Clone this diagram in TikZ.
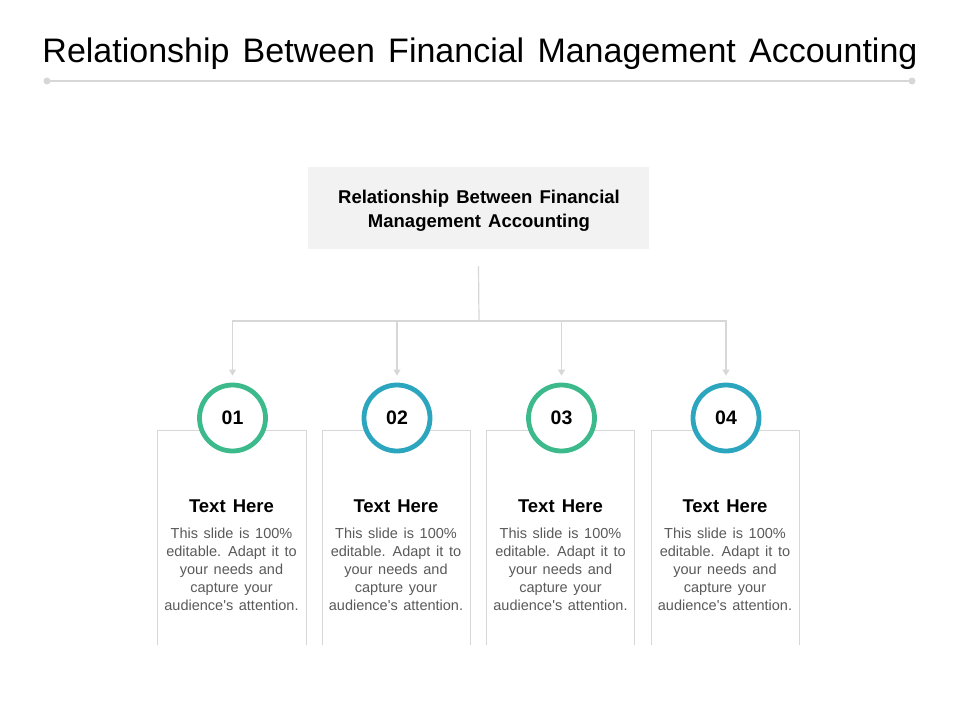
\documentclass[tikz,border=0pt]{standalone}
\usepackage{fontspec}
\setmainfont{Liberation Sans}[Ligatures=TeXOff]
\newfontfamily\tightsans{Liberation Sans}[Ligatures=TeXOff, WordSpace=0.4]
\newfontfamily\widesans{Liberation Sans}[Ligatures=TeXOff, WordSpace=1.4]
\usetikzlibrary{arrows.meta}
\usetikzlibrary{shadows}
\definecolor{leafgreen}{RGB}{60,186,140}
\definecolor{seateal}{RGB}{44,166,190}
\definecolor{paleline}{RGB}{215,215,215}
\definecolor{headfill}{RGB}{242,242,242}
\definecolor{bodygray}{RGB}{89,89,89}
\newcommand{\bodytext}{This slide is 100\%\\editable. Adapt it to\\your needs and\\capture your\\audience's attention.}

\begin{document}
\begin{tikzpicture}[x=1pt, y=-1pt,
		link/.style={draw=paleline, line width=1.2pt},
		drop/.style={link, -{Triangle[width=7pt,length=6pt]}, shorten >=7pt},
		frame/.style={draw=paleline, line width=1pt},
		badge/.style={circle, fill=white, line width=4.8pt, minimum size=66pt, inner sep=0pt,
			font=\bfseries\fontsize{19.5}{22}\selectfont,
			drop shadow={opacity=0.18, shadow xshift=1.5pt, shadow yshift=-1.5pt}},
		heading/.style={anchor=base, font=\tightsans\bfseries\fontsize{18.5}{22}\selectfont},
		body/.style={align=center, text=bodygray, inner sep=0pt, font=\fontsize{14.5}{18}\selectfont}]
		\useasboundingbox (0,0) rectangle (960,720);

		% title and rule
		\node[anchor=base, inner sep=0pt] (title) at (480,62) {\widesans\fontsize{34}{40}\selectfont Relationship Between Financial Management Accounting};
		\coordinate (ruleL) at (47,81);
		\coordinate (ruleR) at (912,81);
		\draw[link] (ruleL) -- (ruleR);
		\fill[paleline] (ruleL) circle[radius=3.5];
		\fill[paleline] (ruleR) circle[radius=3.5];

		% top box
		\node[fill=headfill, minimum width=341pt, minimum height=82pt] (head) at (478.5,208) {};
		\node[align=center, inner sep=0pt, font=\tightsans\bfseries\fontsize{18.5}{24}\selectfont] (headtext) at (479,211)
			{Relationship Between Financial\\Management Accounting};

		% column frames
		\draw[frame] (157,645) -- (157,430.5) -- (306,430.5) -- (306,645);
		\draw[frame] (322,645) -- (322,430.5) -- (470,430.5) -- (470,645);
		\draw[frame] (486.5,645) -- (486.5,430.5) -- (634.5,430.5) -- (634.5,645);
		\draw[frame] (651,645) -- (651,430.5) -- (799,430.5) -- (799,645);

		% numbered circles
		\node[badge, draw=leafgreen] (c1) at (232.5,418) {01};
		\node[badge, draw=seateal] (c2) at (397,418) {02};
		\node[badge, draw=leafgreen] (c3) at (561.5,418) {03};
		\node[badge, draw=seateal] (c4) at (726,418) {04};

		% connectors
		\coordinate (fork) at (479,321);
		\draw[link] ([yshift=-17pt]head.south) -- (fork);
		\draw[drop] (fork) -| (c1.north);
		\draw[drop] (fork) -| (c2.north);
		\draw[drop] (fork) -| (c3.north);
		\draw[drop] (fork) -| (c4.north);

		% texts
		\node[heading] (h1) at (231.5,512) {Text Here};
		\node[heading] (h2) at (396,512) {Text Here};
		\node[heading] (h3) at (560.5,512) {Text Here};
		\node[heading] (h4) at (725,512) {Text Here};
		\node[body] (b1) at (231.5,569) {\bodytext};
		\node[body] (b2) at (396,569) {\bodytext};
		\node[body] (b3) at (560.5,569) {\bodytext};
		\node[body] (b4) at (725,569) {\bodytext};
	\end{tikzpicture}
\end{document}
